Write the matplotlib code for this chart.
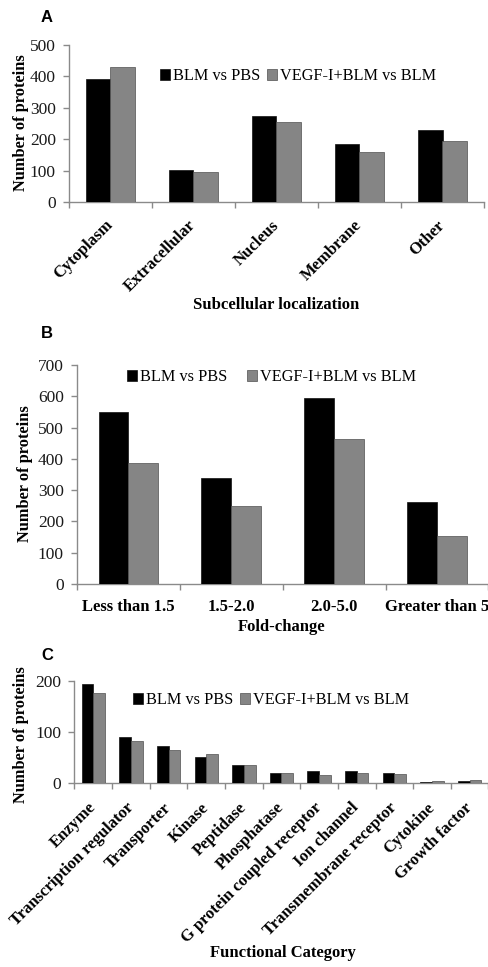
import matplotlib
matplotlib.use("Agg")
import matplotlib.pyplot as plt
import matplotlib.transforms as mtransforms
import numpy as np
from matplotlib.ticker import FixedLocator

plt.rcParams['font.family'] = ['Liberation Serif', 'DejaVu Serif']

W, H = 489, 967

series_names = ["BLM vs PBS", "VEGF-I+BLM vs BLM"]

a_cats = ["Cytoplasm", "Extracellular", "Nucleus", "Membrane", "Other"]
a_blm = [392, 103, 274, 184, 230]
a_vegf = [430, 95, 255, 159, 193]

b_cats = ["Less than 1.5", "1.5-2.0", "2.0-5.0", "Greater than 5"]
b_blm = [549, 338, 596, 261]
b_vegf = [388, 248, 463, 154]

c_cats = ["Enzyme", "Transcription regulator", "Transporter", "Kinase",
          "Peptidase", "Phosphatase", "G protein coupled receptor",
          "Ion channel", "Transmembrane receptor", "Cytokine", "Growth factor"]
c_blm = [194, 91, 73, 51, 35, 20, 23, 23, 19, 1.5, 4]
c_vegf = [176, 83, 64, 57, 36, 19, 15, 20, 17, 3, 6]

BLACK = "#000000"
GRAY = "#858585"
AXC = "#8a8a8a"

fig = plt.figure(figsize=(W / 100, H / 100), dpi=100)


def fx(x):
    return x / W


def fy(y):
    return 1 - y / H


def make_axes(l, t, r, b):
    return fig.add_axes([fx(l), fy(b), (r - l) / W, (b - t) / H])


def draw_panel(ax, cats, s1, s2, ymax, ystep, rot, pad, bw=0.29):
    n = len(cats)
    x = np.arange(n) + 0.5
    ax.bar(x - bw / 2, s1, bw, color=BLACK, edgecolor="#111111", linewidth=0.5,
           label=series_names[0], zorder=3)
    ax.bar(x + bw / 2, s2, bw, color=GRAY, edgecolor="#505050", linewidth=0.5,
           label=series_names[1], zorder=3)
    ax.set_xlim(0, n)
    ax.set_ylim(0, ymax)
    ax.set_yticks(np.arange(0, ymax + 1, ystep))
    ax.set_xticks(x)
    ax.xaxis.set_minor_locator(FixedLocator(np.arange(0, n + 1)))
    if rot:
        ax.set_xticklabels(cats, rotation=45, ha="right", va="center",
                           rotation_mode="anchor",
                           fontweight="bold", fontsize=12)
        off = mtransforms.ScaledTranslation(0.06, 0, fig.dpi_scale_trans)
        for lab in ax.get_xticklabels():
            lab.set_transform(lab.get_transform() + off)
    else:
        ax.set_xticklabels(cats, fontweight="bold", fontsize=12)
    ax.tick_params(axis="x", which="major", length=0, pad=pad)
    ax.tick_params(axis="x", which="minor", length=4, color=AXC, width=1,
                   direction="out")
    ax.tick_params(axis="y", length=4, color=AXC, width=1, labelsize=12.5,
                   pad=5.5, labelcolor="#1a1a1a")
    for s in ["top", "right"]:
        ax.spines[s].set_visible(False)
    for s in ["left", "bottom"]:
        ax.spines[s].set_color(AXC)
        ax.spines[s].set_linewidth(1)
    ax.set_facecolor("none")


def add_legend(ax, x, y, colsp):
    ax.legend(loc="center left", bbox_to_anchor=(fx(x), fy(y)),
              bbox_transform=fig.transFigure, ncol=2, frameon=False,
              fontsize=11.7, handlelength=0.6, handleheight=0.65,
              handletextpad=0.2, columnspacing=colsp, borderpad=0,
              borderaxespad=0)


# Panel A
axA = make_axes(69, 45, 484, 202)
draw_panel(axA, a_cats, a_blm, a_vegf, 500, 100, True, 15)
add_legend(axA, 160, 76, 0.4)
axA.set_ylabel("Number of proteins", fontweight="bold", fontsize=11.8)
axA.yaxis.set_label_coords(fx(29), fy(123), transform=fig.transFigure)
fig.text(fx(276), fy(305), "Subcellular localization", ha="center",
         va="center", fontweight="bold", fontsize=12)
fig.text(fx(47), fy(18), "A", ha="center", va="center", fontweight="bold",
         fontsize=12, family="Liberation Sans")

# Panel B
axB = make_axes(77, 365, 488.5, 584)
draw_panel(axB, b_cats, b_blm, b_vegf, 700, 100, False, 11)
add_legend(axB, 127, 377, 1.2)
axB.set_ylabel("Number of proteins", fontweight="bold", fontsize=11.8)
axB.yaxis.set_label_coords(fx(33), fy(474), transform=fig.transFigure)
fig.text(fx(282), fy(627), "Fold-change", ha="center", va="center",
         fontweight="bold", fontsize=12)
fig.text(fx(47), fy(333), "B", ha="center", va="center", fontweight="bold",
         fontsize=12, family="Liberation Sans")

# Panel C
axC = make_axes(74.5, 681, 488.5, 783)
draw_panel(axC, c_cats, c_blm, c_vegf, 200, 100, True, 16, bw=0.31)
add_legend(axC, 133, 700, 0.4)
axC.set_ylabel("Number of proteins", fontweight="bold", fontsize=11.8)
axC.yaxis.set_label_coords(fx(29), fy(735), transform=fig.transFigure)
fig.text(fx(283), fy(953), "Functional Category", ha="center", va="center",
         fontweight="bold", fontsize=12)
fig.text(fx(47), fy(655), "C", ha="center", va="center", fontweight="bold",
         fontsize=12, family="Liberation Sans")

fig.savefig("out.png", dpi=100)
